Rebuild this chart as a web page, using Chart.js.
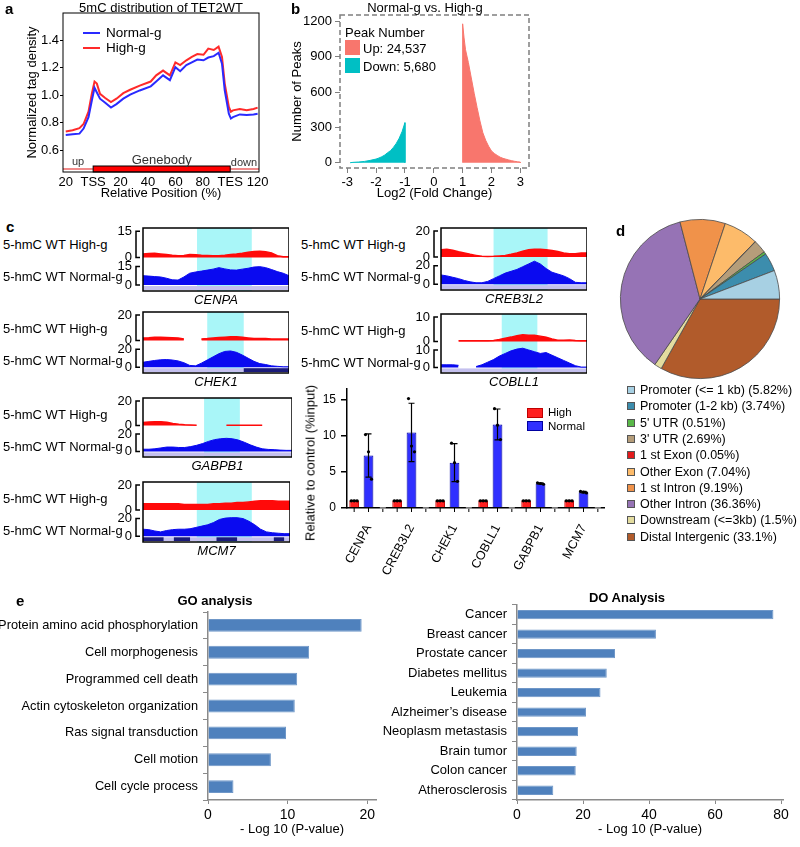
<!DOCTYPE html>
<html>
<head>
<meta charset="utf-8">
<title>TET2WT 5mC / 5hmC figure</title>
<script src="https://cdn.jsdelivr.net/npm/chart.js@4.4.1/dist/chart.umd.min.js"></script>
<style>
  body { margin: 0; width: 800px; height: 847px; position: relative; overflow: hidden; background: #fff;
         font-family: "Liberation Sans", Arial, sans-serif; color: #000; }
  canvas { position: absolute; }
  .lbl { position: absolute; white-space: nowrap; line-height: 1; }
  .sw { position: absolute; box-sizing: border-box; }
</style>
</head>
<body>
<script>
// ---------------- data ----------------
// a: 5mC profile (x = relative position, %)
const posA = [-20, -15, -10, -7, -3.4, -1, 1, 2.7, 5, 8.8, 13, 17, 22, 27, 34, 42, 46, 51, 56, 60,
  63.5, 68, 72, 76, 80.5, 84, 88, 91.5, 94, 96, 99, 100.5, 102, 107, 112, 117, 120];
const normalA = [0.71, 0.715, 0.72, 0.757, 0.84, 0.96, 1.055, 1.02, 0.975, 0.945, 0.91, 0.935, 0.975, 1.005,
  1.035, 1.065, 1.10, 1.145, 1.11, 1.205, 1.175, 1.22, 1.24, 1.26, 1.255, 1.275, 1.285, 1.31, 1.23, 1.035,
  0.865, 0.83, 0.84, 0.86, 0.855, 0.86, 0.865];
const highA = [0.735, 0.745, 0.76, 0.79, 0.88, 1.01, 1.10, 1.085, 1.01, 0.98, 0.95, 0.975, 1.015, 1.04,
  1.07, 1.10, 1.145, 1.18, 1.145, 1.24, 1.22, 1.255, 1.28, 1.30, 1.295, 1.34, 1.33, 1.355, 1.28, 1.085,
  0.915, 0.88, 0.89, 0.90, 0.89, 0.90, 0.91];
const xTickPosA = [-20, 0, 20, 40, 60, 80, 100, 120];
const xTickLabA = ['20', 'TSS', '20', '40', '60', '80', 'TES', '120'];
const yTicksA = [0.6, 0.8, 1.0, 1.2, 1.4];

// b: peaks by log2 fold change
const downX = [-2.9, -2.8, -2.6, -2.4, -2.2, -2.0, -1.9, -1.8, -1.7, -1.6, -1.5, -1.4, -1.3, -1.2, -1.1, -1.0, -1.0];
const downN = [0, 3, 6, 11, 20, 31, 40, 51, 65, 85, 102, 130, 164, 207, 263, 340, 0];
const upX = [1.0, 1.0, 1.05, 1.1, 1.2, 1.3, 1.4, 1.5, 1.6, 1.7, 1.8, 1.9, 2.0, 2.1, 2.2, 2.3, 2.4, 2.5, 2.6, 2.7, 2.8, 2.9, 3.0, 3.0];
const upN = [0, 1180, 1060, 960, 850, 720, 590, 470, 355, 255, 190, 140, 100, 78, 62, 47, 37, 30, 23, 17, 12, 8, 5, 0];
const xTicksB = [-3, -2, -1, 0, 1, 2, 3];
const yTicksB = [0, 300, 600, 900, 1200];

// c: 5-hmC browser tracks
const genes = ['CENPA', 'CREB3L2', 'CHEK1', 'COBLL1', 'GABPB1', 'MCM7'];
const trackX = [0, 4, 8, 12, 16, 20, 24, 28, 32, 36, 40, 44, 48, 52, 56, 60, 64, 68, 72, 76, 80, 84, 88, 92, 96, 100];
const trackMax = [15, 20, 20, 10, 20, 20];
const highTracks = [
  [2.0, 2.2, 2.3, 2.0, 1.6, 1.2, 1.0, 1.1, 1.6, 1.5, 1.2, 1.1, 1.0, 1.0, 1.2, 1.6, 1.9, 2.4, 3.0, 3.4, 3.5, 3.3, 2.6, 1.0, 0.4, 0.3],
  [5.5, 6.0, 5.2, 4.0, 3.0, 2.0, 1.2, 0.5, 0.4, 0.5, 0.8, 1.2, 2.0, 3.0, 4.5, 5.5, 6.0, 6.0, 5.5, 5.0, 4.2, 3.0, 2.5, 2.5, 3.0, 3.0],
  [2.0, 2.2, 2.6, 2.6, 2.4, 2.2, 2.0, 1.2, null, null, 1.2, 1.5, 2.0, 2.3, 2.6, 3.0, 3.0, 2.5, 2.0, 1.5, 1.5, 1.5, 1.2, 1.2, 1.2, 1.2],
  [null, null, null, 0.3, 0.3, 0.3, 0.3, 0.3, 0.3, 0.4, 0.8, 1.3, 1.8, 2.4, 2.8, 2.6, 2.6, 2.2, 1.8, 1.0, 0.5, 0.5, 0.6, 0.4, 0.3, 0.3],
  [2.5, 2.8, 3.0, 3.0, 2.6, 1.6, 1.0, 0.6, 0.4, 0.3, null, null, null, null, 0.3, 0.3, 0.3, 0.3, 0.3, 0.3, 0.3, null, null, null, null, null],
  [5, 5, 5, 5, 5, 5, 5, 4.5, 4.5, 4.5, 4.5, 4.5, 5, 5, 5.5, 5.5, 6, 6, 6.5, 7, 7.5, 7.5, 7.5, 7, 7, 7]
];
const normalTracks = [
  [7.5, 7.2, 6.8, 6.5, 5.5, 4.2, 4.0, 6.5, 9.5, 10.5, 11.2, 12.0, 12.8, 14.0, 13.0, 12.2, 12.0, 12.8, 13.5, 14.5, 14.8, 14.0, 12.5, 10.8, 9.5, 7.5],
  [10, 9, 7.5, 6, 4, 2.5, 1.5, 1.5, 3, 6, 9, 12, 14, 16, 19, 22, 25, 22, 17, 13, 11, 9, 6, 2, 1.5, 1.5],
  [5.5, 6.5, 7.5, 8.2, 8.5, 8.0, 7.0, 5.0, 2.0, 1.5, 4.5, 8.0, 11.5, 15.0, 17.5, 18.0, 16.5, 13.5, 10.0, 6.5, 4.0, 3.0, 1.5, 1.0, 0.5, 0.5],
  [1.5, 1.5, 1.5, 1.2, null, null, 0.5, 1.5, 3.0, 4.5, 6.5, 8.0, 9.5, 10.5, 11.0, 10.0, 9.0, 8.0, 8.5, 7.0, 5.5, 4.0, 2.5, 1.0, 0.2, 0.2],
  [2.5, 2.5, 3.0, 4.0, 5.0, 5.0, 4.5, 4.5, 5.5, 7.0, 9.0, 11.5, 13.5, 14.5, 15.0, 14.5, 13.0, 10.5, 7.5, 5.0, 3.0, 2.3, 2.0, 1.5, 1.2, 1.2],
  [8, 7.5, 6, 5, 6.5, 7.5, 8, 8, 8.5, 10, 11.5, 13, 15.5, 19, 20.5, 21, 21, 20, 17, 13, 8, 5, 4, 3.5, 3, 3]
];
const peakRegion = [[37, 74.5], [36, 73], [44, 69], [41.6, 66], [41, 65], [36.6, 74]];
const exons = [[], [], [[69, 100]], [], [], [[0, 14], [21, 32], [50, 64], [89, 96]]];

// c: ChIP-qPCR, relative to control (%input)
const highMean = [1, 1, 1, 1, 1, 1];
const highSd = [0.05, 0.05, 0.05, 0.05, 0.05, 0.05];
const highReps = [[1, 1, 1], [1, 1, 1], [1, 1, 1], [1, 1, 1], [1, 1, 1], [1, 1, 1]];
const normalMean = [7.3, 10.5, 6.3, 11.6, 3.4, 2.2];
const normalSd = [3.0, 4.05, 2.65, 2.15, 0.1, 0.1];
const normalReps = [[10.2, 7.8, 4.0], [15.2, 8.6, 7.8], [9.0, 6.3, 3.7], [13.8, 11.5, 9.5], [3.5, 3.4, 3.3], [2.3, 2.2, 2.1]];
const spacer = [0, 0, 0, 0, 0, 0];
const yTicksQ = [0, 5, 10, 15];

// d: peak annotation
const annoLabels = ['Promoter (<= 1 kb)', 'Promoter (1-2 kb)', "5' UTR", "3' UTR", '1 st Exon', 'Other Exon',
  '1 st Intron', 'Other Intron', 'Downstream (<=3kb)', 'Distal Intergenic'];
const annoPct = [5.82, 3.74, 0.51, 2.69, 0.05, 7.04, 9.19, 36.36, 1.5, 33.1];
const annoColors = ['#a7d0e3', '#3c8dad', '#59b848', '#b59d7a', '#e31a1c', '#fdbb6a', '#f0924a', '#9673b5', '#e3dc9f', '#b15b2b'];

// e: enrichment
const goTerms = ['Protein amino acid phosphorylation', 'Cell morphogenesis', 'Programmed cell death',
  'Actin cytoskeleton organization', 'Ras signal transduction', 'Cell motion', 'Cell cycle process'];
const goScores = [19.3, 12.7, 11.2, 10.9, 9.8, 7.9, 3.2];
const goTicks = [0, 10, 20];
const doTerms = ['Cancer', 'Breast cancer', 'Prostate cancer', 'Diabetes mellitus', 'Leukemia',
  'Alzheimer’s disease', 'Neoplasm metastasis', 'Brain tumor', 'Colon cancer', 'Atherosclerosis'];
const doScores = [77.7, 42.1, 29.7, 27.2, 25.3, 20.9, 18.5, 18.1, 17.8, 11.0];
const doTicks = [0, 20, 40, 60, 80];

// ---------------- layout ----------------
// browser track boxes: [left, top, width, height]
const trackBoxes = [[143, 228, 146, 63], [441, 228, 146, 62], [143, 312, 146, 61],
  [441, 314, 146, 59], [143, 398, 149, 59], [143, 482, 147, 60]];

Chart.defaults.font.family = '"Liberation Sans", Arial, sans-serif';
Chart.defaults.font.size = 13;
Chart.defaults.color = '#000';
Chart.defaults.animation = false;

function mk(left, top, w, h) {
  const c = document.createElement('canvas');
  c.width = w; c.height = h;
  c.style.left = left + 'px'; c.style.top = top + 'px';
  document.body.appendChild(c);
  return c;
}

function txt(s, x, y, o = {}) {
  const d = document.createElement('div');
  d.className = 'lbl';
  d.textContent = s;
  d.style.left = x + 'px';
  d.style.top = y + 'px';
  d.style.fontSize = (o.size || 13) + 'px';
  if (o.bold) d.style.fontWeight = 'bold';
  if (o.italic) d.style.fontStyle = 'italic';
  const ax = o.align === 'center' ? '-50%' : o.align === 'right' ? '-100%' : '0';
  d.style.transform = `translate(${ax}, -50%)` + (o.rotate ? ` rotate(${o.rotate}deg)` : '');
  document.body.appendChild(d);
}

function swatch(x, y, w, h, color, border) {
  const d = document.createElement('div');
  d.className = 'sw';
  Object.assign(d.style, {left: x + 'px', top: y + 'px', width: w + 'px', height: h + 'px',
    background: color, border: border || 'none'});
  document.body.appendChild(d);
}

const noHover = {legend: {display: false}, tooltip: {enabled: false}};
const fixTicks = arr => s => { s.ticks = arr.map(v => ({value: v})); };

// frame round the plot area
const frame = {
  id: 'frame',
  afterDraw(chart, args, opts) {
    const {ctx, chartArea: a} = chart;
    ctx.save();
    ctx.strokeStyle = opts.color || '#000';
    ctx.lineWidth = opts.width || 1;
    if (opts.dash) ctx.setLineDash(opts.dash);
    ctx.strokeRect(a.left, a.top, a.right - a.left, a.bottom - a.top);
    ctx.restore();
  }
};

// ---------------- panel a ----------------
const geneBody = {
  id: 'geneBody',
  afterDatasetsDraw(chart) {
    const {ctx, chartArea: a, scales: {x}} = chart;
    const tss = x.getPixelForValue(0), tes = x.getPixelForValue(100);
    ctx.save();
    ctx.fillStyle = '#f08a8a';
    ctx.fillRect(a.left, a.bottom - 4, tss - a.left, 2);
    ctx.fillRect(tes, a.bottom - 4, a.right - tes, 2);
    ctx.fillStyle = '#ff0000';
    ctx.fillRect(tss, a.bottom - 6, tes - tss, 6);
    ctx.strokeStyle = '#000';
    ctx.lineWidth = 1;
    ctx.strokeRect(tss, a.bottom - 6, tes - tss, 6);
    ctx.fillStyle = '#333';
    ctx.textAlign = 'center';
    ctx.textBaseline = 'middle';
    ctx.font = '11px "Liberation Sans", Arial, sans-serif';
    ctx.fillText('up', x.getPixelForValue(-11), a.bottom - 10);
    ctx.fillText('down', x.getPixelForValue(110), a.bottom - 9);
    ctx.font = '13px "Liberation Sans", Arial, sans-serif';
    ctx.fillText('Genebody', x.getPixelForValue(50), a.bottom - 12);
    ctx.restore();
  }
};

new Chart(mk(0, 0, 290, 202), {
  type: 'line',
  data: {
    datasets: [
      {label: 'Normal-g', data: posA.map((x, i) => ({x, y: normalA[i]})), borderColor: '#2a2aff', borderWidth: 2, pointRadius: 0},
      {label: 'High-g', data: posA.map((x, i) => ({x, y: highA[i]})), borderColor: '#ff2a2a', borderWidth: 2, pointRadius: 0}
    ]
  },
  options: {
    responsive: false, events: [],
    layout: {padding: {top: 13, right: 31, left: 0, bottom: 0}},
    plugins: Object.assign({frame: {}}, noHover),
    scales: {
      x: {
        type: 'linear', min: -22, max: 121,
        afterBuildTicks: fixTicks(xTickPosA),
        afterFit: s => { s.height = 30; },
        ticks: {callback: (v, i) => xTickLabA[i], padding: 3, maxRotation: 0, autoSkip: false},
        grid: {display: false, drawTicks: false}, border: {display: false},
        title: {display: true, text: 'Relative Position (%)', padding: {top: 0, bottom: 1}}
      },
      y: {
        min: 0.44, max: 1.6,
        afterBuildTicks: fixTicks(yTicksA),
        afterFit: s => { s.width = 63; },
        ticks: {callback: v => v.toFixed(1), padding: 1},
        grid: {drawOnChartArea: false, tickLength: 3, color: '#000'}, border: {display: false},
        title: {display: true, text: 'Normalized tag density', padding: {top: 25}}
      }
    }
  },
  plugins: [frame, geneBody]
});

txt('a', 5, 8, {bold: true, size: 15});
txt('5mC distribution of TET2WT', 161, 7, {align: 'center'});
swatch(83, 32, 17, 2, '#2a2aff');
txt('Normal-g', 106, 33, {size: 13.5});
swatch(83, 47, 17, 2, '#ff2a2a');
txt('High-g', 106, 48, {size: 13.5});

// ---------------- panel b ----------------
new Chart(mk(290, 0, 290, 202), {
  type: 'line',
  data: {
    datasets: [
      {label: 'Down', data: downX.map((x, i) => ({x, y: downN[i]})), fill: 'origin',
        backgroundColor: '#00BFC4', borderColor: '#00BFC4', borderWidth: 1, pointRadius: 0},
      {label: 'Up', data: upX.map((x, i) => ({x, y: upN[i]})), fill: 'origin',
        backgroundColor: '#F8766D', borderColor: '#F8766D', borderWidth: 1, pointRadius: 0}
    ]
  },
  options: {
    responsive: false, events: [],
    layout: {padding: {top: 15, right: 51, left: 0, bottom: 0}},
    plugins: Object.assign({frame: {color: '#7f7f7f', width: 1.5, dash: [5, 3]}}, noHover),
    scales: {
      x: {
        type: 'linear', min: -3.25, max: 3.3,
        afterBuildTicks: fixTicks(xTicksB),
        afterFit: s => { s.height = 34; },
        ticks: {padding: 2, maxRotation: 0},
        grid: {drawOnChartArea: false, tickLength: 5, color: '#7f7f7f'}, border: {display: false},
        title: {display: true, text: 'Log2 (Fold Change)', padding: {top: 0, bottom: 1}}
      },
      y: {
        min: -45, max: 1255,
        afterBuildTicks: fixTicks(yTicksB),
        afterFit: s => { s.width = 50; },
        ticks: {padding: 3, callback: v => String(v)},
        grid: {drawOnChartArea: false, tickLength: 5, color: '#7f7f7f'}, border: {display: false},
        title: {display: true, text: 'Number of Peaks', padding: {top: 0}}
      }
    }
  },
  plugins: [frame]
});

txt('b', 291, 8, {bold: true, size: 15});
txt('Normal-g vs. High-g', 425, 7, {align: 'center'});
txt('Peak Number', 345, 32);
swatch(345, 40, 15, 15, '#F8766D');
txt('Up: 24,537', 363, 48);
swatch(345, 58, 15, 15, '#00BFC4');
txt('Down: 5,680', 363, 66);

// ---------------- panel c: tracks ----------------
const trackDecor = {
  id: 'trackDecor',
  beforeDatasetsDraw(chart, args, opts) {
    const {ctx, chartArea: a, scales: {x}} = chart;
    const [h0, h1] = peakRegion[opts.gene];
    ctx.save();
    ctx.fillStyle = '#a9f6f8';
    ctx.fillRect(x.getPixelForValue(h0), a.top, x.getPixelForValue(h1) - x.getPixelForValue(h0), a.bottom - a.top);
    ctx.restore();
  },
  afterDatasetsDraw(chart, args, opts) {
    const g = opts.gene, m = trackMax[g];
    const {ctx, chartArea: a, scales: {x, yHi, yLo}} = chart;
    ctx.save();
    // gene model strip
    const s0 = yLo.getPixelForValue(0) + 1, s1 = a.bottom - 1;
    ctx.fillStyle = '#c4c0ee';
    ctx.fillRect(a.left, s0, a.right - a.left, s1 - s0);
    ctx.fillStyle = '#1b1b7a';
    exons[g].forEach(([e0, e1]) => {
      ctx.fillRect(x.getPixelForValue(e0), s0, x.getPixelForValue(e1) - x.getPixelForValue(e0), s1 - s0);
    });
    // box
    ctx.strokeStyle = '#000';
    ctx.lineWidth = 1.5;
    ctx.strokeRect(a.left, a.top, a.right - a.left, a.bottom - a.top);
    // scale brackets
    [yHi, yLo].forEach(s => {
      const t = s.getPixelForValue(m), b = s.getPixelForValue(0), xb = a.left - 7;
      ctx.beginPath();
      ctx.moveTo(xb + 4, t); ctx.lineTo(xb, t); ctx.lineTo(xb, b); ctx.lineTo(xb + 4, b);
      ctx.stroke();
    });
    ctx.restore();
  }
};

function trackChart(g) {
  const [bx, by, bw, bh] = trackBoxes[g];
  const m = trackMax[g];
  const padL = 34;
  const yOpt = (min, max) => ({
    type: 'linear', stack: 'trk', stackWeight: 1, min, max, position: 'left',
    afterBuildTicks: fixTicks([0, m]),
    afterFit: s => { s.width = padL; },
    ticks: {padding: 0, autoSkip: false},
    grid: {display: false, drawTicks: true, tickLength: 11},
    border: {display: false}
  });
  new Chart(mk(bx - padL, by - 8, bw + padL, bh + 16), {
    type: 'line',
    data: {
      datasets: [
        {data: trackX.map((x, i) => ({x, y: highTracks[g][i]})), yAxisID: 'yHi', fill: 'origin',
          backgroundColor: '#ff0a0a', borderColor: '#ff0a0a', borderWidth: 1.5, pointRadius: 0, spanGaps: false},
        {data: trackX.map((x, i) => ({x, y: normalTracks[g][i]})), yAxisID: 'yLo', fill: 'origin',
          backgroundColor: '#0a0af0', borderColor: '#0a0af0', borderWidth: 1, pointRadius: 0, spanGaps: false}
      ]
    },
    options: {
      responsive: false, events: [],
      layout: {padding: {top: 8, bottom: 8, left: 0, right: 0}},
      plugins: Object.assign({trackDecor: {gene: g}}, noHover),
      scales: {
        x: {type: 'linear', min: 0, max: 100, display: false},
        yLo: yOpt(-0.32 * m, 1.37 * m),
        yHi: yOpt(-0.08 * m, 1.12 * m)
      }
    },
    plugins: [trackDecor]
  });
  const lx = bx < 300 ? 3 : 301;
  txt('5-hmC WT High-g', lx, by + 16);
  txt('5-hmC WT Normal-g', lx, by + 48);
  txt(genes[g], bx + bw / 2, by + bh + 8, {italic: true, align: 'center'});
}
genes.forEach((_, g) => trackChart(g));
txt('c', 6, 226, {bold: true, size: 15});

// ---------------- panel c: qPCR bars ----------------
const errorBars = {
  id: 'errorBars',
  afterDatasetsDraw(chart) {
    const {ctx, scales: {y}} = chart;
    const sets = [[highMean, highSd, highReps], [normalMean, normalSd, normalReps]];
    ctx.save();
    // small ticks under every bar slot
    const y0 = y.getPixelForValue(0);
    ctx.strokeStyle = '#000';
    ctx.lineWidth = 1;
    [0, 1, 2].forEach(d => chart.getDatasetMeta(d).data.forEach(bar => {
      ctx.beginPath();
      ctx.moveTo(bar.x, y0); ctx.lineTo(bar.x, y0 + 4);
      ctx.stroke();
    }));
    sets.forEach(([mean, sd, reps], d) => {
      chart.getDatasetMeta(d).data.forEach((bar, i) => {
        const x = bar.x;
        const t = y.getPixelForValue(mean[i] + sd[i]), b = y.getPixelForValue(mean[i] - sd[i]);
        ctx.strokeStyle = '#000';
        ctx.lineWidth = 1.2;
        ctx.beginPath();
        ctx.moveTo(x, t); ctx.lineTo(x, b);
        ctx.moveTo(x - 3, t); ctx.lineTo(x + 3, t);
        ctx.moveTo(x - 3, b); ctx.lineTo(x + 3, b);
        ctx.stroke();
        ctx.fillStyle = '#000';
        reps[i].forEach((r, j) => {
          ctx.beginPath();
          ctx.arc(x + (j - 1) * 3, y.getPixelForValue(r), 1.6, 0, Math.PI * 2);
          ctx.fill();
        });
      });
    });
    // empty spacer slots
    chart.getDatasetMeta(2).data.forEach((bar, i) => {
      const yy = y.getPixelForValue(spacer[i]);
      ctx.strokeStyle = '#aaa';
      ctx.lineWidth = 1.5;
      ctx.beginPath();
      ctx.moveTo(bar.x - 3, yy); ctx.lineTo(bar.x + 3, yy);
      ctx.stroke();
    });
    ctx.restore();
  }
};

new Chart(mk(300, 377, 305, 200), {
  type: 'bar',
  data: {
    labels: genes,
    datasets: [
      {label: 'High', data: highMean, backgroundColor: '#ff2020', borderColor: '#c00000', borderWidth: 1},
      {label: 'Normal', data: normalMean, backgroundColor: '#3030ff', borderColor: '#0000a0', borderWidth: 1},
      {label: '', data: spacer, backgroundColor: 'rgba(0,0,0,0)'}
    ]
  },
  options: {
    responsive: false, events: [],
    layout: {padding: {top: 0, right: 0}},
    plugins: noHover,
    datasets: {bar: {barPercentage: 0.68, categoryPercentage: 1.0}},
    scales: {
      x: {
        afterFit: s => { s.height = 69; },
        ticks: {minRotation: 62, maxRotation: 62, padding: 6, font: {size: 12.5}},
        grid: {display: false}, border: {color: '#000', width: 1.5}
      },
      y: {
        min: 0, max: 16.5,
        afterBuildTicks: fixTicks(yTicksQ),
        afterFit: s => { s.width = 47; },
        ticks: {padding: 5, font: {size: 12}},
        grid: {drawOnChartArea: false, tickLength: 6, color: '#000', lineWidth: 1.5}, border: {color: '#000', width: 1.5}
      }
    }
  },
  plugins: [errorBars]
});
txt('Relative to control (%input)', 310, 463, {align: 'center', rotate: -90});
swatch(527, 408, 16, 10, '#ff2020', '1px solid #c00000');
txt('High', 548, 413, {size: 11.5});
swatch(527, 421, 16, 10, '#3030ff', '1px solid #0000a0');
txt('Normal', 548, 427, {size: 11.5});

// ---------------- panel d: pie ----------------
new Chart(mk(619, 218, 162, 162), {
  type: 'pie',
  data: {
    labels: annoLabels.slice().reverse(),
    datasets: [{data: annoPct.slice().reverse(), backgroundColor: annoColors.slice().reverse(),
      borderColor: '#4a4a4a', borderWidth: 0.8}]
  },
  options: {responsive: false, events: [], rotation: 90, plugins: noHover, layout: {padding: 1}}
});
txt('d', 616, 230, {bold: true, size: 15});
annoLabels.forEach((l, i) => {
  const y = 390 + i * 16.3;
  swatch(627, y - 4, 8, 8, annoColors[i], '1px solid #555');
  txt(`${l} (${annoPct[i]}%)`, 640, y, {size: 12.5});
});

// ---------------- panel e ----------------
function hbar(left, top, w, h, labels, values, o) {
  new Chart(mk(left, top, w, h), {
    type: 'bar',
    data: {labels, datasets: [{data: values, backgroundColor: '#4f81bd', borderColor: '#6f97c8', borderWidth: 1}]},
    options: {
      indexAxis: 'y', responsive: false, events: [],
      layout: {padding: {top: o.padTop, right: o.padRight}},
      plugins: noHover,
      datasets: {bar: {barPercentage: 0.48, categoryPercentage: 1.0}},
      scales: {
        x: {
          min: 0, max: o.max,
          afterBuildTicks: fixTicks(o.ticks),
          afterFit: s => { s.height = 47; },
          ticks: {padding: 3, font: {size: 14}},
          grid: {drawOnChartArea: false, tickLength: 4, color: '#8a8a8a'}, border: {color: '#8a8a8a', width: 1.5},
          title: {display: true, text: '- Log 10 (P-value)', padding: {top: 0, bottom: 10}}
        },
        y: {
          afterFit: s => { s.width = o.yWidth; },
          ticks: {padding: 5, autoSkip: false, font: {size: o.labelSize}},
          grid: {drawOnChartArea: false, tickLength: 5, color: '#8a8a8a'}, border: {color: '#8a8a8a', width: 1.5}
        }
      }
    }
  });
}
hbar(0, 592, 400, 255, goTerms, goScores, {max: 21.1, ticks: goTicks, padTop: 20, padRight: 24, yWidth: 208, labelSize: 12.8});
hbar(375, 592, 425, 255, doTerms, doScores, {max: 80.6, ticks: doTicks, padTop: 12, padRight: 17, yWidth: 142, labelSize: 13});
txt('e', 16, 600, {bold: true, size: 15});
txt('GO analysis', 215, 600, {bold: true, align: 'center'});
txt('DO Analysis', 627, 597, {bold: true, align: 'center'});
</script>
</body>
</html>
